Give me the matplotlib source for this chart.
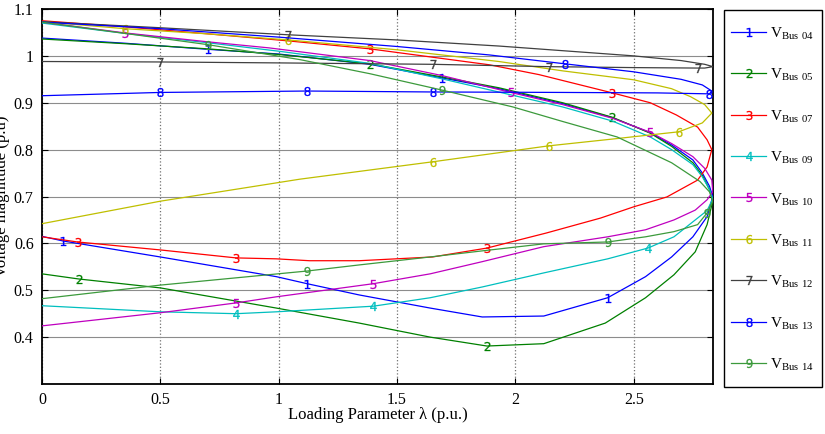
import matplotlib
matplotlib.use('Agg')
import matplotlib.pyplot as plt
from matplotlib.patches import Rectangle

plt.rcParams['font.family'] = 'Liberation Serif'
plt.rcParams['mathtext.fontset'] = 'custom'
plt.rcParams['mathtext.rm'] = 'Liberation Serif'
plt.rcParams['mathtext.sf'] = 'DejaVu Sans'

# PV curves: upper branch from lambda=0 to the nose, then lower branch back
lam_bus04 = [0, 0.35, 0.70, 1.0, 1.385, 1.69, 1.93, 2.2, 2.41, 2.57, 2.66, 2.75, 2.79, 2.82, 2.834,
             2.81, 2.75, 2.66, 2.55, 2.39, 2.12, 1.86, 1.64, 1.34, 1.12, 0.99, 0.5, 0.09, 0]
v_bus04 = [1.038, 1.027, 1.014, 1.004, 0.982, 0.953, 0.930, 0.898, 0.868, 0.836, 0.810, 0.778, 0.750, 0.722, 0.700,
           0.657, 0.614, 0.571, 0.529, 0.484, 0.445, 0.443, 0.462, 0.490, 0.514, 0.529, 0.571, 0.605, 0.615]

lam_bus05 = [0, 0.35, 0.70, 1.0, 1.385, 1.69, 1.93, 2.2, 2.41, 2.57, 2.66, 2.75, 2.79, 2.82, 2.834,
             2.81, 2.76, 2.67, 2.55, 2.38, 2.12, 1.88, 1.64, 1.34, 0.99, 0.5, 0.156, 0]
v_bus05 = [1.036, 1.026, 1.015, 1.003, 0.983, 0.955, 0.932, 0.900, 0.869, 0.835, 0.807, 0.772, 0.745, 0.715, 0.690,
           0.640, 0.582, 0.533, 0.484, 0.430, 0.386, 0.381, 0.400, 0.430, 0.462, 0.505, 0.524, 0.535]

lam_bus07 = [0, 0.35, 0.70, 1.04, 1.385, 1.89, 2.1, 2.41, 2.57, 2.68, 2.77, 2.81, 2.83,
             2.81, 2.77, 2.64, 2.5, 2.36, 2.13, 1.88, 1.65, 1.34, 1.13, 0.99, 0.82, 0.5, 0.15, 0]
v_bus07 = [1.075, 1.062, 1.047, 1.032, 1.015, 0.981, 0.960, 0.921, 0.900, 0.874, 0.848, 0.821, 0.800,
           0.763, 0.735, 0.699, 0.678, 0.654, 0.622, 0.590, 0.571, 0.563, 0.563, 0.567, 0.569, 0.586, 0.603, 0.614]

lam_bus09 = [0, 0.35, 0.70, 1.0, 1.385, 1.69, 1.98, 2.2, 2.41, 2.57, 2.66, 2.75, 2.79, 2.82, 2.834,
             2.81, 2.76, 2.67, 2.56, 2.39, 2.12, 1.86, 1.64, 1.40, 0.99, 0.82, 0.5, 0]
v_bus09 = [1.070, 1.048, 1.028, 1.010, 0.984, 0.951, 0.917, 0.891, 0.861, 0.827, 0.800, 0.768, 0.742, 0.715, 0.695,
           0.670, 0.650, 0.614, 0.590, 0.567, 0.537, 0.507, 0.484, 0.466, 0.454, 0.450, 0.454, 0.467]

lam_bus10 = [0, 0.35, 0.70, 0.96, 1.385, 1.69, 1.98, 2.2, 2.41, 2.57, 2.66, 2.75, 2.80, 2.83, 2.834,
             2.81, 2.76, 2.67, 2.55, 2.39, 2.12, 1.86, 1.64, 1.40, 0.99, 0.82, 0.5, 0]
v_bus10 = [1.072, 1.049, 1.030, 1.017, 0.990, 0.958, 0.922, 0.896, 0.867, 0.837, 0.813, 0.785, 0.760, 0.735, 0.710,
           0.693, 0.671, 0.650, 0.629, 0.614, 0.593, 0.561, 0.535, 0.514, 0.486, 0.473, 0.452, 0.424]

lam_bus11 = [0, 0.35, 0.70, 1.04, 1.5, 1.93, 2.2, 2.5, 2.66, 2.74, 2.80, 2.83,
             2.79, 2.69, 2.4, 2.14, 1.65, 1.09, 0.5, 0]
v_bus11 = [1.073, 1.058, 1.047, 1.034, 1.013, 0.988, 0.968, 0.949, 0.930, 0.913, 0.896, 0.878,
           0.857, 0.838, 0.822, 0.808, 0.774, 0.737, 0.690, 0.642]

lam_bus12 = [0, 0.5, 1.04, 1.5, 1.93, 2.5, 2.7, 2.8, 2.835,
             2.8, 2.77, 2.5, 2.14, 1.65, 1.0, 0.5, 0]
v_bus12 = [1.073, 1.060, 1.045, 1.034, 1.021, 1.000, 0.990, 0.982, 0.977,
           0.974, 0.974, 0.975, 0.977, 0.982, 0.985, 0.987, 0.988]

lam_bus13 = [0, 0.5, 1.0, 1.5, 1.89, 2.21, 2.5, 2.7, 2.79, 2.83,
             2.82, 2.6, 2.2, 1.65, 1.12, 0.5, 0]
v_bus13 = [1.072, 1.058, 1.040, 1.020, 1.002, 0.983, 0.966, 0.950, 0.938, 0.925,
           0.919, 0.921, 0.922, 0.923, 0.925, 0.922, 0.915]

lam_bus14 = [0, 0.35, 0.70, 1.09, 1.385, 1.69, 1.99, 2.2, 2.43, 2.66, 2.78, 2.82, 2.834,
             2.81, 2.77, 2.67, 2.55, 2.39, 2.12, 1.86, 1.64, 1.34, 1.12, 0.5, 0]
v_bus14 = [1.072, 1.048, 1.024, 0.992, 0.962, 0.927, 0.891, 0.860, 0.827, 0.772, 0.732, 0.710, 0.690,
           0.665, 0.640, 0.625, 0.614, 0.603, 0.599, 0.584, 0.571, 0.554, 0.541, 0.511, 0.482]

bus_names = ['04', '05', '07', '09', '10', '11', '12', '13', '14']
lams = [lam_bus04, lam_bus05, lam_bus07, lam_bus09, lam_bus10, lam_bus11, lam_bus12, lam_bus13, lam_bus14]
volts = [v_bus04, v_bus05, v_bus07, v_bus09, v_bus10, v_bus11, v_bus12, v_bus13, v_bus14]

colors = ['#0000ff', '#008000', '#ff0000', '#00bfbf', '#bf00bf', '#bfbf00', '#404040', '#0000ff', '#3c9a3c']
# which points carry the numbered marker
mark_at = [[2, 5, 19, 24, 27], [4, 8, 21, 26], [4, 7, 19, 24, 26], [18, 23, 25], [1, 6, 9, 23, 25],
           [1, 3, 13, 15, 16], [2, 10, 12, 13, 15], [5, 10, 13, 14, 15], [2, 5, 13, 17, 22]]

fig = plt.figure(figsize=(8.25, 4.34), dpi=100)
ax = fig.add_axes([42/825, 1-384/434, (713-42)/825, (384-9)/434])

for k in range(9):
    ax.plot(lams[k], volts[k], color=colors[k], lw=0.9,
            marker=r'$\mathsf{%d}$' % (k+1), markevery=mark_at[k], ms=6.5, mew=0.2,
            label=r'$\mathrm{V}_{\mathrm{Bus\ %s}}$' % bus_names[k], zorder=3)

ax.set_xlim(0, 2.835)
ax.set_ylim(0.3, 1.1)
ax.set_xticks([0, 0.5, 1, 1.5, 2, 2.5])
ax.set_xticklabels(['0', '0.5', '1', '1.5', '2', '2.5'])
ax.set_yticks([0.4, 0.5, 0.6, 0.7, 0.8, 0.9, 1.0, 1.1])
ax.set_yticklabels(['0.4', '0.5', '0.6', '0.7', '0.8', '0.9', '1', '1.1'])
ax.tick_params(direction='in', top=True, right=True, length=4, labelsize=11.5, pad=6)
ax.grid(axis='y', color='#8c8c8c', ls='-', lw=0.8)
ax.grid(axis='x', color='#707070', ls=':', lw=0.9)
ax.set_axisbelow(True)
for s in ax.spines.values():
    s.set_linewidth(1.3)

ax.set_xlabel('Loading Parameter λ (p.u.)', fontsize=12)
ax.set_ylabel('Voltage magnitude (p.u)', fontsize=12)
ax.xaxis.set_label_coords(0.5, -0.062)
ax.yaxis.set_label_coords(-0.047, 0.5)

# legend box drawn separately so the entries can be spaced like the original
fig.patches.append(Rectangle((724/825, 1-387/434), 98/825, 377/434, transform=fig.transFigure,
                             fill=False, edgecolor='black', lw=1.0))
leg = fig.legend(loc='upper left', bbox_to_anchor=(731/825, 1-25/434), borderaxespad=0,
                 fontsize=11, labelspacing=1.62, handlelength=2.3, handletextpad=0.25,
                 borderpad=0, frameon=False)

fig.savefig('out.png', dpi=100)
